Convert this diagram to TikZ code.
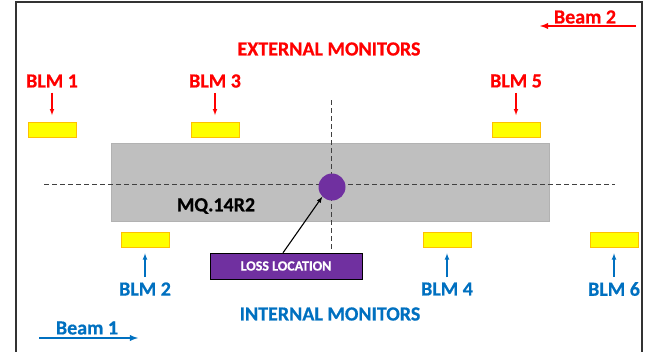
\documentclass[tikz,border=0pt]{standalone}
\usepackage{fontspec}
\setmainfont{Carlito}[BoldFeatures={FakeBold=0.6}]
\usetikzlibrary{calc}
\definecolor{extred}{RGB}{255,0,0}
\definecolor{intblue}{RGB}{0,112,192}
\definecolor{blmyellow}{RGB}{255,255,0}
\definecolor{blmedge}{RGB}{255,192,0}
\definecolor{magnetgray}{RGB}{191,191,191}
\definecolor{losspurple}{RGB}{112,48,160}

\begin{document}
\begin{tikzpicture}[x=1pt,y=-1pt,>=latex,
    blm/.style={draw=blmedge, fill=blmyellow, line width=0.8pt, minimum width=48pt, minimum height=15pt, inner sep=0pt},
    lbl/.style={font=\fontsize{20}{20}\selectfont\bfseries, inner sep=0pt},
    axis/.style={black!75, dash pattern=on 5pt off 3pt}]
\useasboundingbox (0,0) rectangle (648,351);
\def \toprow {81}
\def \botrow {289}
% frame
\draw[line width=1.6pt, black!80] (16,353) -- (16,2) -- (642,2) -- (642,353);
% magnet and beam axis
\node[draw=black!30, fill=magnetgray, minimum width=438pt, minimum height=78pt, inner sep=0pt] (magnet) at (330,182) {};
\draw[axis] (44,184) -- (615,184);
\draw[axis] (331,100) -- (331,250);
\node[circle, fill=losspurple, minimum size=27pt, inner sep=0pt] (spot) at (332,187) {};
\node[lbl, black] (mq) at (216,206) {MQ.14R2};
% titles
\node[lbl, extred] (ext) at (329,49) {EXTERNAL MONITORS};
\node[lbl, intblue] (int) at (330,314) {INTERNAL MONITORS};
% monitors
\foreach \n/\x in {1/52,3/215,5/516}
{
    \node[lbl, extred] (lbl\n) at (\x,\toprow) {BLM \n};
    \node[blm] (blm\n) at (\x,130) {};
    \draw[->, extred, line width=1.1pt, shorten <=5pt, shorten >=7pt] (lbl\n.south) -- (blm\n.north);
}
\foreach \n/\x in {2/145,4/447,6/614}
{
    \node[lbl, intblue] (lbl\n) at (\x,\botrow) {BLM \n};
    \node[blm] (blm\n) at (\x,239.5) {};
    \draw[->, intblue, line width=1.1pt, shorten <=5pt, shorten >=6pt] (lbl\n.north) -- (blm\n.south);
}
% loss location
\node[draw=black, fill=losspurple, text=white, font=\fontsize{14}{14}\selectfont\bfseries, minimum width=152pt, minimum height=26pt, inner sep=0pt] (loss) at (286,266) {LOSS LOCATION};
\draw[->, line width=1.1pt] ($(loss.north)+(-3,0)$) -- (spot.south west);
% beams
\node[lbl, extred] (beam2) at (585,17) {Beam 2};
\coordinate (b2from) at (636,26);
\coordinate (b2to) at (540,26);
\draw[->, extred, line width=1.8pt] (b2from) -- (b2to);
\node[lbl, intblue] (beam1) at (87,328) {Beam 1};
\coordinate (b1from) at (39,338);
\coordinate (b1to) at (138,338);
\draw[->, intblue, line width=1.8pt] (b1from) -- (b1to);
\end{tikzpicture}
\end{document}
